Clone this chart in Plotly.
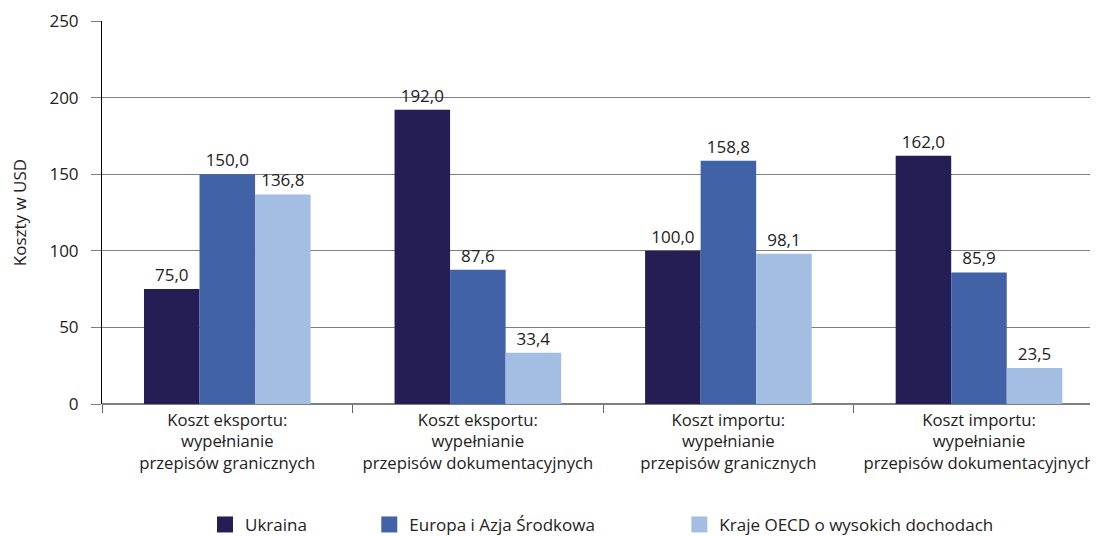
import plotly.graph_objects as go

categories = [
    "Koszt eksportu:<br>wypełnianie<br>przepisów granicznych",
    "Koszt eksportu:<br>wypełnianie<br>przepisów dokumentacyjnych",
    "Koszt importu:<br>wypełnianie<br>przepisów granicznych",
    "Koszt importu:<br>wypełnianie<br>przepisów dokumentacyjnych",
]
series_names = ["Ukraina", "Europa i Azja Środkowa", "Kraje OECD o wysokich dochodach"]
ukraina = [75.0, 192.0, 100.0, 162.0]
europa = [150.0, 87.6, 158.8, 85.9]
oecd = [136.8, 33.4, 98.1, 23.5]
y_ticks = [0, 50, 100, 150, 200, 250]

colors = ["#251e54", "#4262a8", "#a4bee3"]
legend_pad = [13, 18, 0]
FONT = "Open Sans"
FS = 17

def fmt(v):
    return f"{v:.1f}".replace(".", ",")

fig = go.Figure()
for name, vals, col in zip(series_names, [ukraina, europa, oecd], colors):
    fig.add_trace(go.Bar(
        x=categories, y=vals, name=name, marker=dict(color=col, line=dict(width=0)),
        text=[fmt(v) for v in vals], textposition="outside", cliponaxis=False,
        textfont=dict(family=FONT, size=FS, color="#222222"),
        showlegend=False,
    ))
for name, col, pad in zip(series_names, colors, legend_pad):
    fig.add_trace(go.Scatter(
        x=[None], y=[None], mode="markers", name=name + "\u00a0" * pad,
        marker=dict(symbol="square", size=18, color=col),
    ))

# page body has an 8px margin: compensate so the plot area lands where the reference has it
fig.update_layout(
    width=1090, height=528,
    margin=dict(l=94, r=0, t=13, b=132),
    paper_bgcolor="white", plot_bgcolor="white",
    font=dict(family=FONT, size=FS, color="#222222"),
    barmode="group", bargap=0.335, bargroupgap=0,
    legend=dict(orientation="h", x=0.502, xanchor="center",
                yref="container", y=0.021, yanchor="middle",
                font=dict(family=FONT, size=FS), itemsizing="trace"),
)
fig.update_xaxes(
    range=[-0.5, 3.475], tickson="boundaries", ticks="outside", ticklen=8,
    tickcolor="#666666", showgrid=False, showline=False, zeroline=False,
    tickfont=dict(family=FONT, size=16.7), ticklabelstandoff=4, automargin=False,
)
fig.update_yaxes(
    range=[0, 250], tickvals=y_ticks, ticks="outside", ticklen=10, tickcolor="#7f7f7f",
    showgrid=True, gridcolor="#7f7f7f", gridwidth=1, zeroline=True, zerolinecolor="#7f7f7f",
    showline=True, linecolor="#000000", linewidth=1,
    title=dict(text="Koszty w USD", font=dict(family=FONT, size=FS), standoff=18),
    tickfont=dict(family=FONT, size=FS), ticklabelstandoff=9, automargin=False,
)

fig.write_html("out.html")
